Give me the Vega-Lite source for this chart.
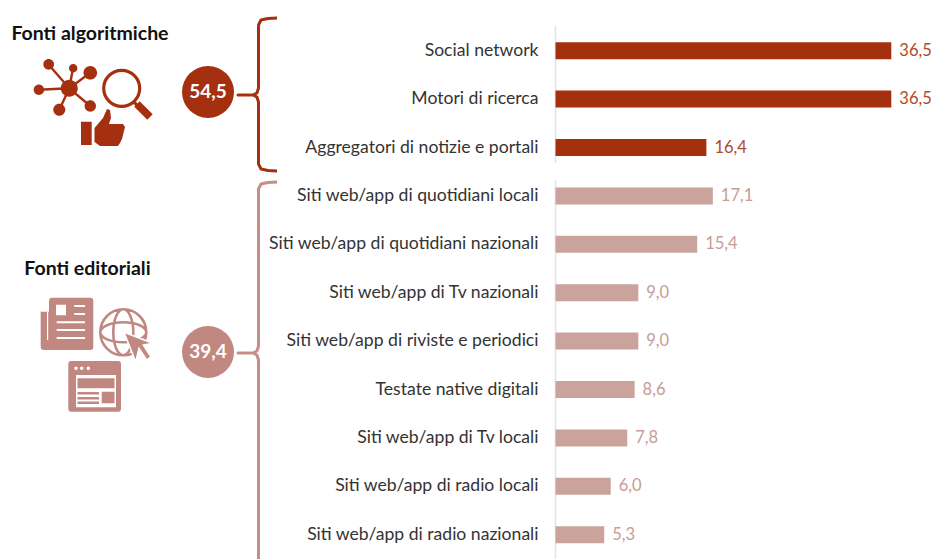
{"$schema":"https://vega.github.io/schema/vega-lite/v6.json","width":378.5,"height":559,"autosize":{"type":"none"},"padding":{"left":555.5,"top":0,"right":0,"bottom":0},"background":"white","config":{"view":{"stroke":null},"font":"Lato","locale":{"number":{"decimal":",","thousands":".","grouping":[3],"currency":["","€"]}}},"datasets":{"fonti":[{"fonte":"Social network","quota":36.5,"gruppo":"algoritmiche"},{"fonte":"Motori di ricerca","quota":36.5,"gruppo":"algoritmiche"},{"fonte":"Aggregatori di notizie e portali","quota":16.4,"gruppo":"algoritmiche"},{"fonte":"Siti web/app di quotidiani locali","quota":17.1,"gruppo":"editoriali"},{"fonte":"Siti web/app di quotidiani nazionali","quota":15.4,"gruppo":"editoriali"},{"fonte":"Siti web/app di Tv nazionali","quota":9.0,"gruppo":"editoriali"},{"fonte":"Siti web/app di riviste e periodici","quota":9.0,"gruppo":"editoriali"},{"fonte":"Testate native digitali","quota":8.6,"gruppo":"editoriali"},{"fonte":"Siti web/app di Tv locali","quota":7.8,"gruppo":"editoriali"},{"fonte":"Siti web/app di radio locali","quota":6.0,"gruppo":"editoriali"},{"fonte":"Siti web/app di radio nazionali","quota":5.3,"gruppo":"editoriali"}],"gruppi":[{"gruppo":"algoritmiche","totale":54.5,"cx":-37.77,"cr":0.853,"titolo":"Fonti algoritmiche","tx":-50.6,"tr":-0.345,"ix":-49.51,"ir":1.019},{"gruppo":"editoriali","totale":39.4,"cx":-37.77,"cr":6.225,"titolo":"Fonti editoriali","tx":-50.87,"tr":4.51,"ix":-49.51,"ir":6.184}],"assi":[{"r0":-0.51,"r1":2.32},{"r0":2.67,"r1":10.7}],"graffe":[{"gruppo":"algoritmiche","o":1,"u":-30.27,"r":-0.676},{"gruppo":"algoritmiche","o":2,"u":-31.25,"r":-0.665},{"gruppo":"algoritmiche","o":3,"u":-32.01,"r":-0.634},{"gruppo":"algoritmiche","o":4,"u":-32.28,"r":-0.531},{"gruppo":"algoritmiche","o":5,"u":-32.28,"r":0.771},{"gruppo":"algoritmiche","o":6,"u":-32.45,"r":0.874},{"gruppo":"algoritmiche","o":7,"u":-32.88,"r":0.915},{"gruppo":"algoritmiche","o":8,"u":-34.51,"r":0.915},{"gruppo":"algoritmiche","o":9,"u":-32.88,"r":0.915},{"gruppo":"algoritmiche","o":10,"u":-32.45,"r":0.957},{"gruppo":"algoritmiche","o":11,"u":-32.28,"r":1.06},{"gruppo":"algoritmiche","o":12,"u":-32.28,"r":2.341},{"gruppo":"algoritmiche","o":13,"u":-32.01,"r":2.444},{"gruppo":"algoritmiche","o":14,"u":-31.25,"r":2.475},{"gruppo":"algoritmiche","o":15,"u":-30.27,"r":2.486},{"gruppo":"editoriali","o":1,"u":-30.27,"r":2.713},{"gruppo":"editoriali","o":2,"u":-31.25,"r":2.723},{"gruppo":"editoriali","o":3,"u":-32.01,"r":2.754},{"gruppo":"editoriali","o":4,"u":-32.28,"r":2.857},{"gruppo":"editoriali","o":5,"u":-32.28,"r":6.101},{"gruppo":"editoriali","o":6,"u":-32.45,"r":6.204},{"gruppo":"editoriali","o":7,"u":-32.88,"r":6.246},{"gruppo":"editoriali","o":8,"u":-34.51,"r":6.246},{"gruppo":"editoriali","o":9,"u":-32.88,"r":6.246},{"gruppo":"editoriali","o":10,"u":-32.45,"r":6.287},{"gruppo":"editoriali","o":11,"u":-32.28,"r":6.39},{"gruppo":"editoriali","o":12,"u":-32.28,"r":10.626}]},"resolve":{"scale":{"y":"independent"},"axis":{"y":"independent"}},"layer":[{"data":{"name":"assi"},"mark":{"type":"rule","color":"#e3e3e3","strokeWidth":1.5},"encoding":{"x":{"datum":0,"type":"quantitative","scale":{"domain":[0,41.14],"nice":false,"zero":false},"axis":null},"y":{"field":"r0","type":"quantitative","scale":{"domain":[-0.5,10.5],"range":[26.5,558.9],"nice":false,"zero":false},"axis":null},"y2":{"field":"r1"}}},{"data":{"name":"fonti"},"mark":{"type":"bar","size":17},"encoding":{"x":{"field":"quota","type":"quantitative","scale":{"domain":[0,41.14],"nice":false},"axis":null},"y":{"field":"fonte","type":"nominal","sort":null,"scale":{"domain":["Social network","Motori di ricerca","Aggregatori di notizie e portali","Siti web/app di quotidiani locali","Siti web/app di quotidiani nazionali","Siti web/app di Tv nazionali","Siti web/app di riviste e periodici","Testate native digitali","Siti web/app di Tv locali","Siti web/app di radio locali","Siti web/app di radio nazionali"],"range":[26.5,558.9],"paddingInner":0,"paddingOuter":0},"axis":{"title":null,"domain":false,"ticks":false,"labelPadding":17.5,"labelFont":"Lato","labelFontSize":17.6,"labelColor":"#333333","labelLimit":400,"grid":false}},"color":{"field":"gruppo","type":"nominal","scale":{"domain":["algoritmiche","editoriali"],"range":["#a5300f","#c9a39c"]},"legend":null}}},{"data":{"name":"fonti"},"mark":{"type":"text","align":"left","baseline":"middle","dx":8,"font":"Lato","fontSize":16.5},"encoding":{"x":{"field":"quota","type":"quantitative"},"y":{"field":"fonte","type":"nominal","sort":null,"scale":{"domain":["Social network","Motori di ricerca","Aggregatori di notizie e portali","Siti web/app di quotidiani locali","Siti web/app di quotidiani nazionali","Siti web/app di Tv nazionali","Siti web/app di riviste e periodici","Testate native digitali","Siti web/app di Tv locali","Siti web/app di radio locali","Siti web/app di radio nazionali"],"range":[26.5,558.9],"paddingInner":0,"paddingOuter":0},"axis":null},"text":{"field":"quota","type":"quantitative","format":".1f"},"color":{"condition":{"test":"datum.gruppo==='algoritmiche'","value":"#b04a2c"},"value":"#c89c94"}}},{"data":{"name":"graffe"},"mark":{"type":"line","strokeWidth":3,"interpolate":"linear","strokeJoin":"round"},"encoding":{"x":{"field":"u","type":"quantitative"},"y":{"field":"r","type":"quantitative","scale":{"domain":[-0.5,10.5],"range":[26.5,558.9],"nice":false,"zero":false},"axis":null},"order":{"field":"o"},"detail":{"field":"gruppo"},"color":{"condition":{"test":"datum.gruppo==='algoritmiche'","value":"#a5300f"},"value":"#c58f88"}}},{"data":{"name":"gruppi"},"mark":{"type":"point","shape":"circle","filled":true,"opacity":1,"size":2704},"encoding":{"x":{"field":"cx","type":"quantitative"},"y":{"field":"cr","type":"quantitative","scale":{"domain":[-0.5,10.5],"range":[26.5,558.9],"nice":false,"zero":false},"axis":null},"color":{"condition":{"test":"datum.gruppo==='algoritmiche'","value":"#a5300f"},"value":"#c08880"}}},{"data":{"name":"gruppi"},"mark":{"type":"text","font":"Lato","fontSize":19,"fontWeight":"bold","color":"white","align":"center","baseline":"middle"},"encoding":{"x":{"field":"cx","type":"quantitative"},"y":{"field":"cr","type":"quantitative","scale":{"domain":[-0.5,10.5],"range":[26.5,558.9],"nice":false,"zero":false},"axis":null},"text":{"field":"totale","type":"quantitative","format":".1f"}}},{"data":{"name":"gruppi"},"mark":{"type":"text","font":"Lato","fontSize":19.5,"fontWeight":"bold","color":"#111111","align":"center","baseline":"middle"},"encoding":{"x":{"field":"tx","type":"quantitative"},"y":{"field":"tr","type":"quantitative","scale":{"domain":[-0.5,10.5],"range":[26.5,558.9],"nice":false,"zero":false},"axis":null},"text":{"field":"titolo"}}},{"data":{"name":"gruppi"},"transform":[{"filter":"datum.gruppo==='algoritmiche'"}],"mark":{"type":"point","filled":true,"opacity":1,"size":4,"color":"#a5300f","shape":"M-39.2 -11.7a8.5 8.5 0 1 0 17 0a8.5 8.5 0 1 0 -17 0ZM-56.7 -35.7a5.4 5.4 0 1 0 10.8 0a5.4 5.4 0 1 0 -10.8 0ZM-31 -31.7a4.2 4.2 0 1 0 8.4 0a4.2 4.2 0 1 0 -8.4 0ZM-16.5 -27.3a6.8 6.8 0 1 0 13.6 0a6.8 6.8 0 1 0 -13.6 0ZM-66.3 -10.3a5.2 5.2 0 1 0 10.4 0a5.2 5.2 0 1 0 -10.4 0ZM-46.7 9.7a6 6 0 1 0 12 0a6 6 0 1 0 -12 0ZM-15.4 6a5.7 5.7 0 1 0 11.4 0a5.7 5.7 0 1 0 -11.4 0ZM39.7 1.3L52.7 14.3L47.3 19.7L34.3 6.7ZM-19 21.7H-8.3V45H-19ZM-5.5 28L3 18L7 9L10 10L11 18L9 24L23 24L25 27L24 31L23 35L22 39L20 43L18 46L0 46L-5.5 42Z"},"encoding":{"x":{"field":"ix","type":"quantitative"},"y":{"field":"ir","type":"quantitative","scale":{"domain":[-0.5,10.5],"range":[26.5,558.9],"nice":false,"zero":false},"axis":null}}},{"data":{"name":"gruppi"},"transform":[{"filter":"datum.gruppo==='algoritmiche'"}],"mark":{"type":"point","filled":false,"opacity":1,"size":4,"color":"#a5300f","strokeWidth":2.4,"shape":"M-30.7 -11.7L-51.7 -35.7M-30.7 -11.7L-27 -31.7M-30.7 -11.7L-9.7 -27.3M-30.7 -11.7L-61.3 -10.3M-30.7 -11.7L-40.7 9.7M-30.7 -11.7L-9.7 6"},"encoding":{"x":{"field":"ix","type":"quantitative"},"y":{"field":"ir","type":"quantitative","scale":{"domain":[-0.5,10.5],"range":[26.5,558.9],"nice":false,"zero":false},"axis":null}}},{"data":{"name":"gruppi"},"transform":[{"filter":"datum.gruppo==='algoritmiche'"}],"mark":{"type":"point","filled":false,"opacity":1,"size":4,"color":"#a5300f","strokeWidth":3.2,"shape":"M3.7 -11.7a18 18 0 1 0 36 0a18 18 0 1 0 -36 0ZM34 2L38 6"},"encoding":{"x":{"field":"ix","type":"quantitative"},"y":{"field":"ir","type":"quantitative","scale":{"domain":[-0.5,10.5],"range":[26.5,558.9],"nice":false,"zero":false},"axis":null}}},{"data":{"name":"gruppi"},"transform":[{"filter":"datum.gruppo==='editoriali'"}],"mark":{"type":"point","filled":true,"opacity":1,"size":4,"color":"#c08880","shape":"M-48 -52.3H-9.7Q-6.7 -52.3 -6.7 -49.3V-3Q-6.7 0 -9.7 0H-56Q-59.3 0 -59.3 -3V-38.3H-51V-49.3Q-51 -52.3 -48 -52.3ZM-28.7 11H18Q21 11 21 14V58.7Q21 61.7 18 61.7H-28.7Q-31.7 61.7 -31.7 58.7V14Q-31.7 11 -28.7 11Z"},"encoding":{"x":{"field":"ix","type":"quantitative"},"y":{"field":"ir","type":"quantitative","scale":{"domain":[-0.5,10.5],"range":[26.5,558.9],"nice":false,"zero":false},"axis":null}}},{"data":{"name":"gruppi"},"transform":[{"filter":"datum.gruppo==='editoriali'"}],"mark":{"type":"point","filled":true,"opacity":1,"size":4,"color":"#ffffff","shape":"M-53 -38H-51.8V-10H-53ZM-44 -45.3H-34V-34.7H-44ZM-25.7 -45H-15V-43H-25.7ZM-25.7 -37H-15V-35H-25.7ZM-43.3 -28.7H-15V-26.7H-43.3ZM-43.3 -21H-15V-19H-43.3ZM-43.3 -13H-15V-11H-43.3ZM-24 25H16V57.3H-24ZM-25.7 18.3a1.7 1.7 0 1 0 3.4 0a1.7 1.7 0 1 0 -3.4 0ZM-20 18.3a1.7 1.7 0 1 0 3.4 0a1.7 1.7 0 1 0 -3.4 0ZM-13.4 18.3a1.7 1.7 0 1 0 3.4 0a1.7 1.7 0 1 0 -3.4 0Z"},"encoding":{"x":{"field":"ix","type":"quantitative"},"y":{"field":"ir","type":"quantitative","scale":{"domain":[-0.5,10.5],"range":[26.5,558.9],"nice":false,"zero":false},"axis":null}}},{"data":{"name":"gruppi"},"transform":[{"filter":"datum.gruppo==='editoriali'"}],"mark":{"type":"point","filled":true,"opacity":1,"size":4,"color":"#c08880","shape":"M-22.5 28.3H14.5V38.3H-22.5ZM1.7 41.7H14.5V53.3H1.7ZM-22.5 42H-1V44.5H-22.5ZM-22.5 47H-1V49.5H-22.5ZM-22.5 51.5H-1V54H-22.5Z"},"encoding":{"x":{"field":"ix","type":"quantitative"},"y":{"field":"ir","type":"quantitative","scale":{"domain":[-0.5,10.5],"range":[26.5,558.9],"nice":false,"zero":false},"axis":null}}},{"data":{"name":"gruppi"},"transform":[{"filter":"datum.gruppo==='editoriali'"}],"mark":{"type":"point","filled":false,"opacity":1,"size":4,"color":"#c08880","strokeWidth":2.6,"shape":"M.3 -17.7a23 23 0 1 0 46 0a23 23 0 1 0 -46 0ZM13.3 -17.7a10 23 0 1 0 20 0a10 23 0 1 0 -20 0ZM.3 -17.7a23 10 0 1 0 46 0a23 10 0 1 0 -46 0Z"},"encoding":{"x":{"field":"ix","type":"quantitative"},"y":{"field":"ir","type":"quantitative","scale":{"domain":[-0.5,10.5],"range":[26.5,558.9],"nice":false,"zero":false},"axis":null}}},{"data":{"name":"gruppi"},"transform":[{"filter":"datum.gruppo==='editoriali'"}],"mark":{"type":"point","filled":true,"opacity":1,"size":4,"fill":"#c08880","stroke":"#ffffff","strokeWidth":1.5,"shape":"M24 -17.7L52.7 -6.7L43.3 -5L50.7 6.7L46.7 10L39 -1.7L35.7 11.7Z"},"encoding":{"x":{"field":"ix","type":"quantitative"},"y":{"field":"ir","type":"quantitative","scale":{"domain":[-0.5,10.5],"range":[26.5,558.9],"nice":false,"zero":false},"axis":null}}}]}
